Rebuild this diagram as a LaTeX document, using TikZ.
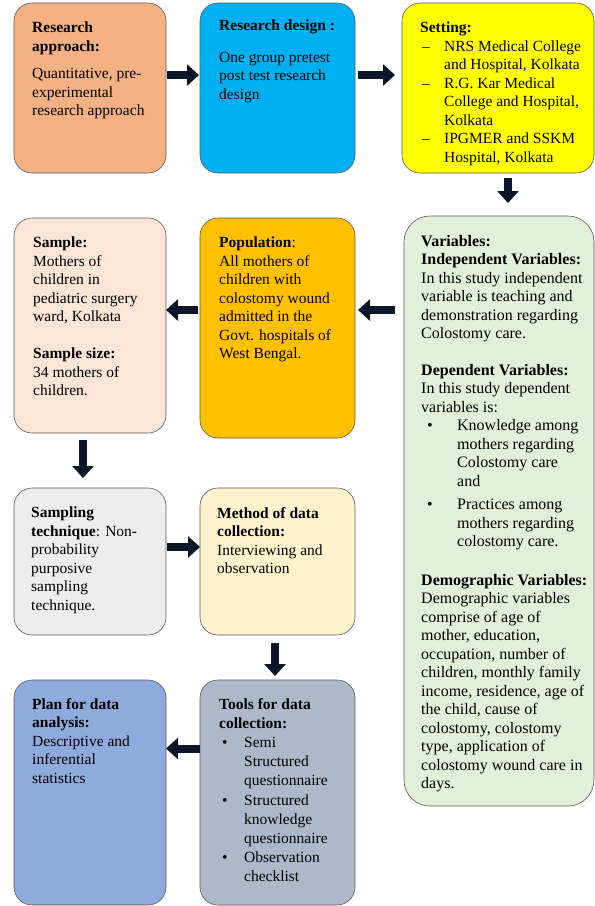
\documentclass[tikz,border=0pt]{standalone}
\usepackage{fontspec}
\setmainfont{Liberation Serif}
\usepackage{tikz}
\usetikzlibrary{arrows.meta, positioning, calc}

\definecolor{apprsalmon}{RGB}{244, 177, 131}
\definecolor{desigcyan}{RGB}{0, 176, 240}
\definecolor{settyellow}{RGB}{255, 255, 0}
\definecolor{sampepeach}{RGB}{251, 229, 214}
\definecolor{popuorange}{RGB}{255, 192, 0}
\definecolor{varigreen}{RGB}{226, 240, 217}
\definecolor{techgray}{RGB}{237, 237, 237}
\definecolor{methcream}{RGB}{255, 242, 204}
\definecolor{planblue}{RGB}{143, 170, 220}
\definecolor{toolslate}{RGB}{173, 185, 202}
\definecolor{arrowc}{RGB}{12, 22, 40}

\newcommand{\itemlead}[3]{\makebox[#1][l]{\hspace*{#2}#3}}

\begin{document}
\begin{tikzpicture}[x=1pt, y=-1pt,
  bnode/.style={draw=black!65, line width=0.6pt, rounded corners=18pt, anchor=north west, outer sep=0pt, inner sep=0pt},
  tnode/.style={anchor=north west, inner sep=0pt, align=left, font=\fontsize{15.5}{18.5}\selectfont},
  arr/.style={-{Triangle[length=12pt, width=21pt]}, line width=8pt, draw=arrowc}
]
  \useasboundingbox (0,0) rectangle (595,906);

  % boxes
  \node[bnode, fill=apprsalmon, minimum width=152pt, minimum height=170pt] (app) at (14,3) {};
  \node[bnode, fill=desigcyan, minimum width=155pt, minimum height=170pt] (des) at (200,3) {};
  \node[bnode, fill=settyellow, minimum width=192pt, minimum height=170pt] (set) at (402,3) {};
  \node[bnode, fill=sampepeach, minimum width=152pt, minimum height=215pt] (sam) at (14,218) {};
  \node[bnode, fill=popuorange, minimum width=155pt, minimum height=220pt] (pop) at (200,218) {};
  \node[bnode, fill=varigreen, rounded corners=26pt, minimum width=190pt, minimum height=590pt] (var) at (404,216) {};
  \node[bnode, fill=techgray, minimum width=152pt, minimum height=147pt] (smp) at (14,488) {};
  \node[bnode, fill=methcream, minimum width=155pt, minimum height=147pt] (met) at (200,488) {};
  \node[bnode, fill=planblue, minimum width=152pt, minimum height=225pt] (pla) at (14,680) {};
  \node[bnode, fill=toolslate, minimum width=155pt, minimum height=225pt] (too) at (200,680) {};

  % texts
  \node[tnode] (app-t) at ([shift={(18,19)}]app.north west)
    {\textbf{Research}\\ \textbf{approach:}\\[9pt] Quantitative, pre-\\ experimental\\ research approach};
  \node[tnode] (des-t) at ([shift={(19,17)}]des.north west)
    {\textbf{Research design :}\\[13pt] One group pretest\\ post test research\\ design};
  \node[tnode] (set-t) at ([shift={(18,19)}]set.north west)
    {\textbf{Setting:}\\
     \itemlead{24pt}{2pt}{\textendash}NRS Medical College\\
     \itemlead{24pt}{0pt}{}and Hospital, Kolkata\\
     \itemlead{24pt}{2pt}{\textendash}R.G. Kar Medical\\
     \itemlead{24pt}{0pt}{}College and Hospital,\\
     \itemlead{24pt}{0pt}{}Kolkata\\
     \itemlead{24pt}{2pt}{\textendash}IPGMER and SSKM\\
     \itemlead{24pt}{0pt}{}Hospital, Kolkata};
  \node[tnode] (sam-t) at ([shift={(19,19)}]sam.north west)
    {\textbf{Sample:}\\ Mothers of\\ children in\\ pediatric surgery\\ ward, Kolkata\\[18.5pt]
     \textbf{Sample size:}\\ 34 mothers of\\ children.};
  \node[tnode] (pop-t) at ([shift={(19,19)}]pop.north west)
    {\textbf{Population}:\\ All mothers of\\ children with\\ colostomy wound\\ admitted in the\\ Govt. hospitals of\\ West Bengal.};
  \node[tnode, font=\fontsize{16}{18.5}\selectfont] (var-t) at ([shift={(17,19)}]var.north west)
    {\textbf{Variables:}\\
     \textbf{Independent Variables:}\\
     In this study independent\\
     variable is teaching and\\
     demonstration regarding\\
     Colostomy care.\\[18pt]
     \textbf{Dependent Variables:}\\
     In this study dependent\\
     variables is:\\
     \itemlead{36pt}{6pt}{\textbullet}Knowledge among\\
     \itemlead{36pt}{0pt}{}mothers regarding\\
     \itemlead{36pt}{0pt}{}Colostomy care\\
     \itemlead{36pt}{0pt}{}and\\[5pt]
     \itemlead{36pt}{6pt}{\textbullet}Practices among\\
     \itemlead{36pt}{0pt}{}mothers regarding\\
     \itemlead{36pt}{0pt}{}colostomy care.\\[20pt]
     \textbf{Demographic Variables:}\\
     Demographic variables\\
     comprise of age of\\
     mother, education,\\
     occupation, number of\\
     children, monthly family\\
     income, residence, age of\\
     the child, cause of\\
     colostomy, colostomy\\
     type, application of\\
     colostomy wound care in\\
     days.};
  \node[tnode] (smp-t) at ([shift={(17,19)}]smp.north west)
    {\textbf{Sampling}\\ \textbf{technique}: Non-\\ probability\\ purposive\\ sampling\\ technique.};
  \node[tnode] (met-t) at ([shift={(17,19)}]met.north west)
    {\textbf{Method of data}\\ \textbf{collection:}\\ Interviewing and\\ observation};
  \node[tnode] (pla-t) at ([shift={(18,18)}]pla.north west)
    {\textbf{Plan for data}\\ \textbf{analysis:}\\ Descriptive and\\ inferential\\ statistics};
  \node[tnode, font=\fontsize{15.5}{19.2}\selectfont] (too-t) at ([shift={(19,18)}]too.north west)
    {\textbf{Tools for data}\\ \textbf{collection:}\\
     \itemlead{25pt}{3pt}{\textbullet}Semi\\
     \itemlead{25pt}{0pt}{}Structured\\
     \itemlead{25pt}{0pt}{}questionnaire\\
     \itemlead{25pt}{3pt}{\textbullet}Structured\\
     \itemlead{25pt}{0pt}{}knowledge\\
     \itemlead{25pt}{0pt}{}questionnaire\\
     \itemlead{25pt}{3pt}{\textbullet}Observation\\
     \itemlead{25pt}{0pt}{}checklist};

  % arrows
  \draw[arr, shorten <=1pt, shorten >=1pt] ([yshift=13pt]app.east) -- ([yshift=13pt]des.west);
  \draw[arr, shorten <=3pt, shorten >=7pt] ([yshift=13pt]des.east) -- ([yshift=13pt]set.west);
  \draw[arr, shorten <=5pt, shorten >=13pt] ([xshift=10pt]set.south) -- ([xshift=9pt]var.north);
  \draw[arr, shorten <=9pt, shorten >=3pt] ([yshift=201pt]var.west) -- ([yshift=18pt]pop.east);
  \draw[arr, shorten <=2pt] ([yshift=18pt]pop.west) -- ([yshift=15.5pt]sam.east);
  \draw[arr, shorten <=7pt, shorten >=10pt] ([xshift=-7pt]sam.south) -- ([xshift=-7pt]smp.north);
  \draw[arr, shorten <=1pt] ([yshift=14.5pt]smp.east) -- ([yshift=14.5pt]met.west);
  \draw[arr, shorten <=8pt, shorten >=4pt] ([xshift=-2.5pt]met.south) -- ([xshift=-2.5pt]too.north);
  \draw[arr] ([yshift=44pt]too.west) -- ([yshift=44pt]pla.east);
\end{tikzpicture}
\end{document}
